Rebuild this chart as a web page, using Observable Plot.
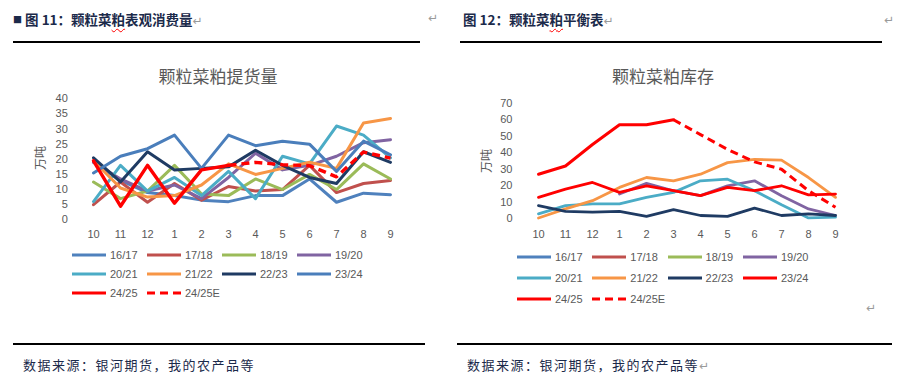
<!DOCTYPE html>
<html><head><meta charset="utf-8">
<script src="https://cdn.jsdelivr.net/npm/d3@7"></script>
<script src="https://cdn.jsdelivr.net/npm/@observablehq/plot@0.6"></script>
<style>
body{margin:0;width:905px;height:387px;position:relative;background:#fff;overflow:hidden;font-family:"Liberation Sans",sans-serif;}
.abs{position:absolute;white-space:nowrap;line-height:1;}
.hdr{font-family:"Noto Sans CJK SC";font-weight:700;font-size:13.5px;color:#1b2a4a;}
.ret{color:#9a9a9a;font-size:12px;font-family:"DejaVu Sans";font-weight:400;}
.rule{position:absolute;height:1.5px;background:#000;}
.ctitle{font-family:"Noto Sans CJK SC";font-size:17px;color:#595959;transform:translate(-50%,-50%);}
.ylab{font-family:"Noto Sans CJK SC";font-size:12px;color:#595959;transform:translate(-50%,-50%) rotate(-90deg);}
.foot{font-family:"Noto Sans CJK SC";font-size:13px;color:#1b2a4a;letter-spacing:1.5px;}
.leg{position:absolute;font-size:11px;color:#595959;line-height:1;display:flex;align-items:center;white-space:nowrap;}
.leg svg{margin-right:4px;}
.wavy{text-decoration:underline wavy red;text-decoration-thickness:1px;text-underline-offset:3px;}
.plotwrap{position:absolute;}
</style>
</head><body>
<script>
// ---------- data ----------
const months = ["10","11","12","1","2","3","4","5","6","7","8","9"];
const seasons = ["16/17","17/18","18/19","19/20","20/21","21/22","22/23","23/24","24/25","24/25E"];

// left chart: 颗粒菜粕提货量 (万吨)
const pickup_1617 = [19, 13, 9, 8, 6.5, 6, 8, 8, 13.5, 5.8, 8.8, 8.3];
const pickup_1718 = [5, 12.5, 5.8, 12, 6.5, 11, 9.5, 10, 18, 9, 12, 13];
const pickup_1819 = [12.5, 7, 9.5, 18, 8.5, 8, 13.5, 10, 15, 10, 18.5, 13.5];
const pickup_1920 = [19, 13.5, 9.5, 11.5, 7, 14, 22, 16.5, 18, 21, 25.5, 26.5];
const pickup_2021 = [6, 18, 9.5, 14, 8, 16, 7, 21, 18.5, 31, 28, 20.5];
const pickup_2122 = [19.5, 10.5, 7.5, 8, 11.5, 18.5, 15, 17, 19, 17, 32, 33.5];
const pickup_2223 = [20.5, 12.5, 22.5, 16.5, 17, 17.5, 23, 18, 14, 12, 22.5, 19];
const pickup_2324 = [15.5, 21, 23.5, 28, 17, 28, 24.5, 26, 25, 16, 26, 21.5];
const pickup_2425 = [19.5, 4.5, 18, 5.5, 16.5, 18, null, null, null, null, null, null];
const pickup_2425E = [null, null, null, null, null, 18, 19, 18.2, 17.9, 14.2, 22.4, 20.4];

// right chart: 颗粒菜粕库存 (万吨)
const stock_1617 = [null, null, null, null, null, null, null, null, null, null, null, null];
const stock_1718 = [null, null, null, null, null, null, null, null, null, null, null, null];
const stock_1819 = [null, null, null, null, null, null, null, null, null, null, null, null];
const stock_1920 = [null, null, null, 15, 21.5, 17, 14, 20, 23, 14, 6, 2];
const stock_2021 = [3, 8, 9, 9, 13, 16, 23, 24, 17, 8.5, 0.5, 1];
const stock_2122 = [0.5, 6, 11, 19, 25, 23, 27, 34, 36, 35.5, 25, 13];
const stock_2223 = [8, 4.5, 4, 4.5, 1.5, 5.5, 2, 1.5, 6.5, 2, 3, 2];
const stock_2324 = [13, 18, 22, 16, 20, 17, 14, 19, 17, 20, 14.5, 15];
const stock_2425 = [27, 32, 45, 57, 57, 60, null, null, null, null, null, null];
const stock_2425E = [null, null, null, null, null, 60, 51, 42, 34.5, 30, 17, 7];

const leftTicks = [0, 5, 10, 15, 20, 25, 30, 35, 40];
const rightTicks = [0, 10, 20, 30, 40, 50, 60, 70];

const leftColors = ["#4F81BD","#C0504D","#9BBB59","#8064A2","#4BACC6","#F79646","#1F3B63","#4A7EBB","#FF0000","#FF0000"];
const rightColors = ["#4F81BD","#C0504D","#9BBB59","#8064A2","#4BACC6","#F79646","#1F3B63","#FF0000","#FF0000","#FF0000"];

const leftValues = [pickup_1617,pickup_1718,pickup_1819,pickup_1920,pickup_2021,pickup_2122,pickup_2223,pickup_2324,pickup_2425,pickup_2425E];
const rightValues = [stock_1617,stock_1718,stock_1819,stock_1920,stock_2021,stock_2122,stock_2223,stock_2324,stock_2425,stock_2425E];

// ---------- helpers ----------
function el(cls, x, y, html, extra) {
  const d = document.createElement("div");
  d.className = "abs " + cls;
  d.style.left = x + "px"; d.style.top = y + "px";
  d.innerHTML = html;
  if (extra) Object.assign(d.style, extra);
  document.body.appendChild(d);
  return d;
}
function rule(x1, x2, y) {
  const d = document.createElement("div");
  d.className = "rule";
  d.style.left = x1 + "px"; d.style.top = y + "px"; d.style.width = (x2 - x1) + "px";
  document.body.appendChild(d);
}

function makeChart(values, colors, o) {
  const marks = values.map((arr, k) => {
    const data = months.map((m, i) => ({m, v: arr[i]})).filter(d => d.v != null);
    const dashed = seasons[k].endsWith("E");
    return Plot.lineY(data, {x: "m", y: "v", stroke: colors[k],
      strokeWidth: (k >= 8 ? o.redW : o.lineW),
      strokeDasharray: dashed ? "8,5" : null, strokeLinecap: dashed ? "butt" : "round"});
  });
  return Plot.plot({
    width: o.width, height: o.height,
    marginLeft: o.ml, marginRight: o.mr, marginTop: o.mt, marginBottom: o.mb,
    style: {fontFamily: "Liberation Sans, sans-serif", fontSize: "11px", color: "#595959", background: "transparent", overflow: "visible"},
    x: {type: "point", domain: months, padding: 0, label: null, tickSize: 0, tickPadding: o.xtp},
    y: {domain: o.yDomain, ticks: o.yTicks, label: null, tickSize: 0, tickPadding: o.ytp},
    marks
  });
}

function legend(colors, x0, colStep, rows, lw) {
  seasons.forEach((s, k) => {
    const c = k % 4, r = Math.floor(k / 4);
    const d = document.createElement("div");
    d.className = "leg";
    d.style.left = (x0 + c * colStep) + "px";
    d.style.top = (rows[r] - 6) + "px";
    d.style.height = "12px";
    const dash = s.endsWith("E") ? ' stroke-dasharray="8,5"' : '';
    d.innerHTML = `<svg width="34" height="6"><line x1="0" y1="3" x2="34" y2="3" stroke="${colors[k]}" stroke-width="${lw}"${dash}/></svg><span>${s}</span>`;
    document.body.appendChild(d);
  });
}

// ---------- headers ----------
el("hdr", 13, 13, '<span style="font-size:9px;vertical-align:2px">■</span> 图 11：颗粒菜<span class="wavy">粕</span>表观消费量<span class="ret">↵</span>');
el("ret", 428, 12, "↵");
rule(13, 420, 41);
el("hdr", 463, 13, '图 12：颗粒菜<span class="wavy">粕</span>平衡表<span class="ret">↵</span>');
el("ret", 884, 14, "↵");
rule(460, 882, 41);

// chart titles
el("ctitle", 218, 75, "颗粒菜粕提货量");
el("ctitle", 663, 75, "颗粒菜粕库存");

// y labels
el("ylab", 40, 158, "万吨");
el("ylab", 486, 161, "万吨");

// ---------- plots ----------
const left = makeChart(leftValues, leftColors, {width: 400, height: 185, ml: 73.3, mr: 29.3, mt: 38.3, mb: 25.7,
  yDomain: [0, 40], yTicks: leftTicks, xtp: 10, ytp: 26, lineW: 3, redW: 3.4});
const lw = document.createElement("div"); lw.className = "plotwrap"; lw.style.left = "20px"; lw.style.top = "60px";
lw.appendChild(left); document.body.appendChild(lw);

const right = makeChart(rightValues, rightColors, {width: 420, height: 185, ml: 75.7, mr: 42.3, mt: 42.7, mb: 26.7,
  yDomain: [0, 70], yTicks: rightTicks, xtp: 11, ytp: 23.7, lineW: 2.8, redW: 3});
const rw = document.createElement("div"); rw.className = "plotwrap"; rw.style.left = "460px"; rw.style.top = "60px";
rw.appendChild(right); document.body.appendChild(rw);

// ---------- legends ----------
legend(leftColors, 72, 75, [255, 274, 293], 3);
legend(rightColors, 517, 75.3, [257, 278, 299], 3);
el("ret", 866, 302, "↵");

// ---------- footers ----------
rule(13, 425, 343);
rule(457, 892, 343);
el("foot", 23, 358, "数据来源：银河期货，我的农产品等");
el("foot", 467, 358, '数据来源：银河期货，我的农产品等<span class="ret">↵</span>');
</script>
</body></html>
